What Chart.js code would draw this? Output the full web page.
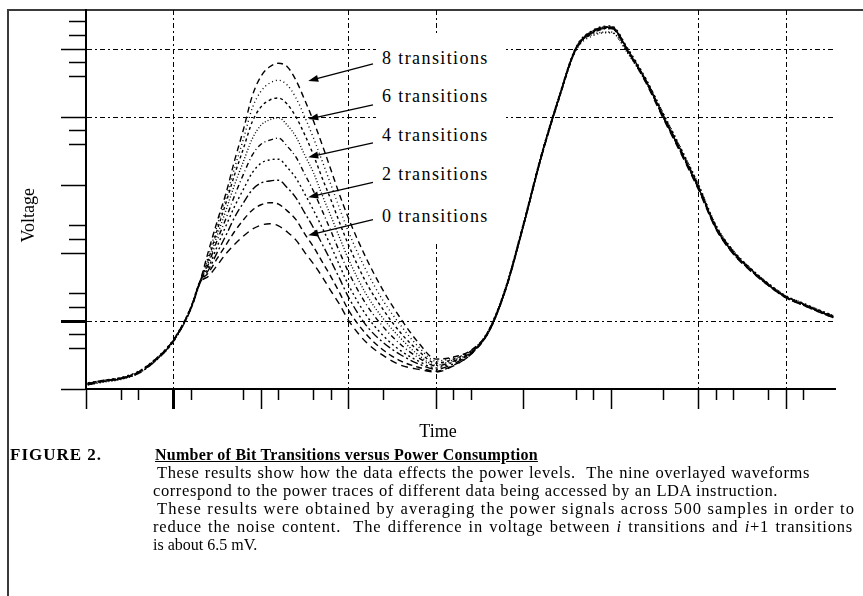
<!DOCTYPE html>
<html>
<head>
<meta charset="utf-8">
<title>Number of Bit Transitions versus Power Consumption</title>
<script src="https://cdn.jsdelivr.net/npm/chart.js@4/dist/chart.umd.min.js"></script>
<style>
html, body { margin: 0; padding: 0; background: #fff; }
body { position: relative; width: 863px; height: 596px; overflow: hidden; font-family: "Liberation Serif", "Times New Roman", serif; color: #000; }
#frame { position: absolute; left: 7px; top: 9px; width: 870px; height: 600px; border-left: 2px solid #3a3a3a; border-top: 2px solid #3a3a3a; }
#plot { position: absolute; left: 0; top: 0; }
#notes { position: absolute; left: 376px; top: 36px; width: 130px; height: 206px; background: #fff; }
.note { position: absolute; left: 6px; font-size: 18px; line-height: 20px; letter-spacing: 1.4px; white-space: nowrap; }
.cap { position: absolute; font-size: 16px; line-height: 18px; white-space: nowrap; }
.fig { left: 10px; top: 446px; font-size: 17px; font-weight: bold; letter-spacing: 1px; }
.head { left: 155px; top: 446px; font-weight: bold; text-decoration: underline; letter-spacing: 0.25px; }
.line { white-space: normal; font-size: 16.5px; text-align: justify; text-align-last: justify; letter-spacing: 0.6px; }
.wide { letter-spacing: 1.1px; }
.mid { letter-spacing: 0.8px; }
</style>
</head>
<body>
<div id="frame"></div>
<canvas id="plot" width="863" height="596"></canvas>
<div id="notes"></div>
<div class="cap fig">FIGURE 2.</div>
<div class="cap head">Number of Bit Transitions versus Power Consumption</div>
<div class="cap line" style="left:157px; top:464px; width:653px">These results show how the data effects the power levels.&nbsp; The nine overlayed waveforms</div>
<div class="cap line" style="left:153px; top:482px; width:625px">correspond to the power traces of different data being accessed by an LDA instruction.</div>
<div class="cap line wide" style="left:157px; top:500px; width:698px">These results were obtained by averaging the power signals across 500 samples in order to</div>
<div class="cap line mid" style="left:153px; top:518px; width:700px">reduce the noise content.&nbsp; The difference in voltage between <i>i</i> transitions and <i>i</i>+1 transitions</div>
<div class="cap" style="left:153px; top:536px">is about 6.5 mV.</div>
<script>
// time in divisions, voltage in divisions (major tick = 1)
const timeAxis = [0.02, 0.2, 0.4, 0.6, 0.8, 1.0, 1.2, 1.3,
  1.4, 1.5, 1.6, 1.7, 1.8, 1.9, 2.0, 2.1, 2.2, 2.3, 2.4, 2.5, 2.6, 2.7, 2.8, 2.9, 3.0,
  3.2, 3.4, 3.6, 3.8, 4.0, 4.2, 4.4,
  4.6, 4.8, 5.0, 5.2, 5.4, 5.6, 5.8, 6.0, 6.2, 6.4, 6.6, 6.8, 7.0, 7.2, 7.4, 7.6, 7.8, 8.0, 8.2, 8.4, 8.54];

const trans0 = [0.07, 0.11, 0.15, 0.24, 0.43, 0.71, 1.19, 1.56,
  1.66, 1.82, 1.99, 2.13, 2.25, 2.35, 2.41, 2.43, 2.40, 2.31, 2.19, 2.01, 1.84, 1.65, 1.44, 1.24, 1.01,
  0.69, 0.49, 0.35, 0.29, 0.25, 0.34, 0.51,
  0.83, 1.47, 2.40, 3.39, 4.25, 5.00, 5.25, 5.31, 4.94, 4.50, 3.97, 3.46, 2.93, 2.35, 1.98, 1.73, 1.52, 1.34, 1.23, 1.12, 1.05];
const trans1 = [0.08, 0.12, 0.16, 0.25, 0.44, 0.72, 1.20, 1.57,
  1.71, 1.92, 2.12, 2.32, 2.49, 2.63, 2.71, 2.74, 2.72, 2.62, 2.49, 2.28, 2.09, 1.87, 1.65, 1.41, 1.16,
  0.81, 0.57, 0.41, 0.32, 0.26, 0.35, 0.51,
  0.85, 1.50, 2.43, 3.42, 4.27, 5.02, 5.27, 5.33, 4.97, 4.54, 4.02, 3.51, 2.98, 2.39, 2.02, 1.76, 1.54, 1.36, 1.25, 1.14, 1.07];
const trans2 = [0.06, 0.11, 0.15, 0.23, 0.42, 0.70, 1.18, 1.55,
  1.75, 2.01, 2.26, 2.53, 2.74, 2.93, 3.03, 3.06, 3.07, 2.96, 2.81, 2.59, 2.37, 2.13, 1.88, 1.62, 1.35,
  0.94, 0.68, 0.50, 0.37, 0.29, 0.37, 0.53,
  0.84, 1.48, 2.41, 3.40, 4.26, 5.01, 5.26, 5.32, 4.96, 4.53, 4.00, 3.49, 2.96, 2.37, 2.00, 1.75, 1.53, 1.35, 1.24, 1.13, 1.06];
const trans3 = [0.09, 0.13, 0.17, 0.26, 0.45, 0.73, 1.21, 1.58,
  1.79, 2.10, 2.40, 2.69, 2.94, 3.18, 3.32, 3.37, 3.38, 3.26, 3.10, 2.87, 2.63, 2.37, 2.10, 1.81, 1.53,
  1.09, 0.78, 0.56, 0.41, 0.31, 0.40, 0.53,
  0.86, 1.51, 2.44, 3.43, 4.28, 5.03, 5.28, 5.34, 4.99, 4.56, 4.04, 3.53, 3.00, 2.40, 2.03, 1.77, 1.55, 1.37, 1.26, 1.15, 1.08];
const trans4 = [0.07, 0.12, 0.16, 0.24, 0.43, 0.71, 1.19, 1.56,
  1.84, 2.19, 2.51, 2.85, 3.16, 3.44, 3.60, 3.66, 3.69, 3.57, 3.41, 3.16, 2.91, 2.62, 2.32, 2.01, 1.72,
  1.25, 0.91, 0.65, 0.46, 0.34, 0.41, 0.54,
  0.83, 1.48, 2.40, 3.39, 4.24, 4.99, 5.24, 5.30, 4.95, 4.52, 3.99, 3.48, 2.95, 2.36, 1.99, 1.74, 1.52, 1.34, 1.23, 1.12, 1.05];
const trans5 = [0.06, 0.10, 0.14, 0.23, 0.42, 0.70, 1.18, 1.55,
  1.87, 2.26, 2.63, 3.01, 3.35, 3.68, 3.88, 3.96, 3.99, 3.88, 3.71, 3.44, 3.18, 2.85, 2.54, 2.22, 1.91,
  1.40, 1.03, 0.74, 0.50, 0.35, 0.43, 0.54,
  0.85, 1.50, 2.42, 3.41, 4.27, 5.00, 5.22, 5.25, 4.92, 4.51, 4.01, 3.50, 2.97, 2.38, 2.01, 1.76, 1.54, 1.36, 1.25, 1.14, 1.07];
const trans6 = [0.08, 0.13, 0.16, 0.25, 0.44, 0.72, 1.20, 1.57,
  1.91, 2.34, 2.74, 3.16, 3.54, 3.93, 4.15, 4.25, 4.28, 4.19, 4.00, 3.74, 3.44, 3.10, 2.78, 2.44, 2.12,
  1.57, 1.16, 0.82, 0.56, 0.38, 0.44, 0.56,
  0.84, 1.49, 2.42, 3.41, 4.25, 5.00, 5.25, 5.31, 4.95, 4.52, 3.99, 3.48, 2.95, 2.36, 1.99, 1.74, 1.53, 1.35, 1.24, 1.13, 1.06];
const trans7 = [0.07, 0.11, 0.15, 0.24, 0.43, 0.71, 1.19, 1.56,
  1.96, 2.41, 2.81, 3.26, 3.68, 4.13, 4.38, 4.50, 4.54, 4.47, 4.28, 4.00, 3.69, 3.35, 3.00, 2.65, 2.31,
  1.75, 1.29, 0.93, 0.62, 0.41, 0.46, 0.56,
  0.86, 1.51, 2.44, 3.42, 4.27, 4.98, 5.20, 5.24, 4.93, 4.55, 4.05, 3.54, 3.01, 2.41, 2.03, 1.77, 1.55, 1.37, 1.26, 1.15, 1.08];
const trans8 = [0.08, 0.12, 0.16, 0.25, 0.44, 0.72, 1.20, 1.57,
  2.03, 2.47, 2.88, 3.37, 3.82, 4.31, 4.60, 4.74, 4.79, 4.74, 4.54, 4.25, 3.94, 3.59, 3.22, 2.85, 2.51,
  1.93, 1.44, 1.03, 0.68, 0.44, 0.47, 0.57,
  0.85, 1.49, 2.41, 3.40, 4.26, 5.01, 5.27, 5.32, 4.96, 4.53, 4.00, 3.49, 2.96, 2.37, 2.00, 1.75, 1.53, 1.35, 1.24, 1.13, 1.06];

const traces = [trans0, trans1, trans2, trans3, trans4, trans5, trans6, trans7, trans8];
const traceNames = ['0 transitions', '1 transition', '2 transitions', '3 transitions', '4 transitions',
  '5 transitions', '6 transitions', '7 transitions', '8 transitions'];
const traceDash = [[7, 5], [6, 4], [8, 3, 2, 3], [2, 3], [5, 3, 1, 3], [1, 2], [3, 3], [1, 3], [6, 4]];

const xMajorTicks = [0, 1, 2, 3, 4, 5, 6, 7, 8];
const xMinorTicks = [0.4, 0.6, 1.2, 1.8, 2.2, 2.6, 2.8, 3.4, 4.2, 4.4, 5.6, 5.8, 6.6, 7.2, 7.4, 7.8, 8.2];
const xGridTicks = [1, 3, 4, 7, 8];
const yMajorTicks = [0, 1, 2, 3, 4, 5];
const yMinorTicks = [0.6, 0.8, 1.2, 1.4, 2.2, 2.4, 3.6, 3.8, 4.6, 4.8, 5.2, 5.4];
const yGridTicks = [1, 4, 5];

const noteLabels = ['8 transitions', '6 transitions', '4 transitions', '2 transitions', '0 transitions'];
const noteLabelY = [4.87, 4.31, 3.74, 3.16, 2.54];
const arrowTailX = 3.28;
const arrowTailY = [4.78, 4.18, 3.62, 3.04, 2.49];
const arrowTipX = 2.54;
const arrowTipY = [4.53, 3.97, 3.41, 2.82, 2.26];

const arrowPlugin = {
  id: 'arrows',
  afterDatasetsDraw(chart) {
    const {ctx, scales: {x, y}} = chart;
    ctx.save();
    ctx.strokeStyle = '#000';
    ctx.fillStyle = '#000';
    ctx.lineWidth = 1.3;
    arrowTailY.forEach((ty, i) => {
      const x1 = x.getPixelForValue(arrowTailX), y1 = y.getPixelForValue(ty);
      const x2 = x.getPixelForValue(arrowTipX), y2 = y.getPixelForValue(arrowTipY[i]);
      const a = Math.atan2(y2 - y1, x2 - x1);
      const c = Math.cos(a), s = Math.sin(a);
      ctx.beginPath();
      ctx.moveTo(x1, y1);
      ctx.lineTo(x2 - 6 * c, y2 - 6 * s);
      ctx.stroke();
      ctx.beginPath();
      ctx.moveTo(x2, y2);
      ctx.lineTo(x2 - 10 * c + 3.5 * s, y2 - 10 * s - 3.5 * c);
      ctx.lineTo(x2 - 10 * c - 3.5 * s, y2 - 10 * s + 3.5 * c);
      ctx.closePath();
      ctx.fill();
    });
    ctx.restore();
  }
};

const titleFont = {family: '"Liberation Serif", "Times New Roman", serif', size: 18};

const chart = new Chart(document.getElementById('plot'), {
  type: 'line',
  data: {
    datasets: traces.map((vals, k) => ({
      label: traceNames[k],
      data: timeAxis.map((t, i) => ({x: t, y: vals[i]})),
      borderColor: '#000',
      borderWidth: 1.4,
      borderDash: traceDash[k],
      pointRadius: 0,
      fill: false,
      cubicInterpolationMode: 'monotone'
    }))
  },
  options: {
    responsive: false,
    animation: false,
    events: [],
    layout: {padding: {left: 10, top: 10, right: 28, bottom: 153.2}},
    plugins: {legend: {display: false}, tooltip: {enabled: false}},
    scales: {
      x: {
        type: 'linear',
        min: 0,
        max: 8.56,
        afterBuildTicks: axis => { axis.ticks = xMajorTicks.concat(xMinorTicks).map(v => ({value: v})); },
        ticks: {display: false},
        grid: {
          color: c => xGridTicks.includes(c.tick.value) ? '#000' : 'rgba(0,0,0,0)',
          lineWidth: 1,
          tickLength: 20,
          tickColor: '#000',
          tickWidth: c => c.tick.value === 1 ? 3 : 1.5,
          tickBorderDash: c => xMajorTicks.includes(c.tick.value) ? [] : [10, 100]
        },
        border: {display: true, color: '#000', width: 2, dash: [5, 3, 2, 3]},
        title: {display: true, text: 'Time' + '\u00a0'.repeat(10), color: '#000', font: titleFont, padding: {top: 12.2, bottom: 0}}
      },
      y: {
        type: 'linear',
        min: 0,
        max: 5.574,
        afterBuildTicks: axis => { axis.ticks = yMajorTicks.concat(yMinorTicks).map(v => ({value: v})); },
        ticks: {display: false},
        grid: {
          color: c => yGridTicks.includes(c.tick.value) ? '#000' : 'rgba(0,0,0,0)',
          lineWidth: 1,
          tickLength: 25,
          tickColor: '#000',
          tickWidth: c => c.tick.value === 1 ? 3 : 1.5,
          tickBorderDash: c => yMajorTicks.includes(c.tick.value) ? [] : [0, 8, 17, 100]
        },
        border: {display: true, color: '#000', width: 2, dash: [5, 3, 2, 3]},
        title: {display: true, text: 'Voltage' + '\u00a0'.repeat(7), color: '#000', font: titleFont, padding: {top: 8.2, bottom: 21.2}}
      }
    }
  },
  plugins: [arrowPlugin]
});

// transition labels, placed through the y scale
const notes = document.getElementById('notes');
const notesTop = 36;
noteLabels.forEach((txt, i) => {
  const d = document.createElement('div');
  d.className = 'note';
  d.textContent = txt;
  d.style.top = (chart.scales.y.getPixelForValue(noteLabelY[i]) - 10 - notesTop) + 'px';
  notes.appendChild(d);
});
</script>
</body>
</html>
